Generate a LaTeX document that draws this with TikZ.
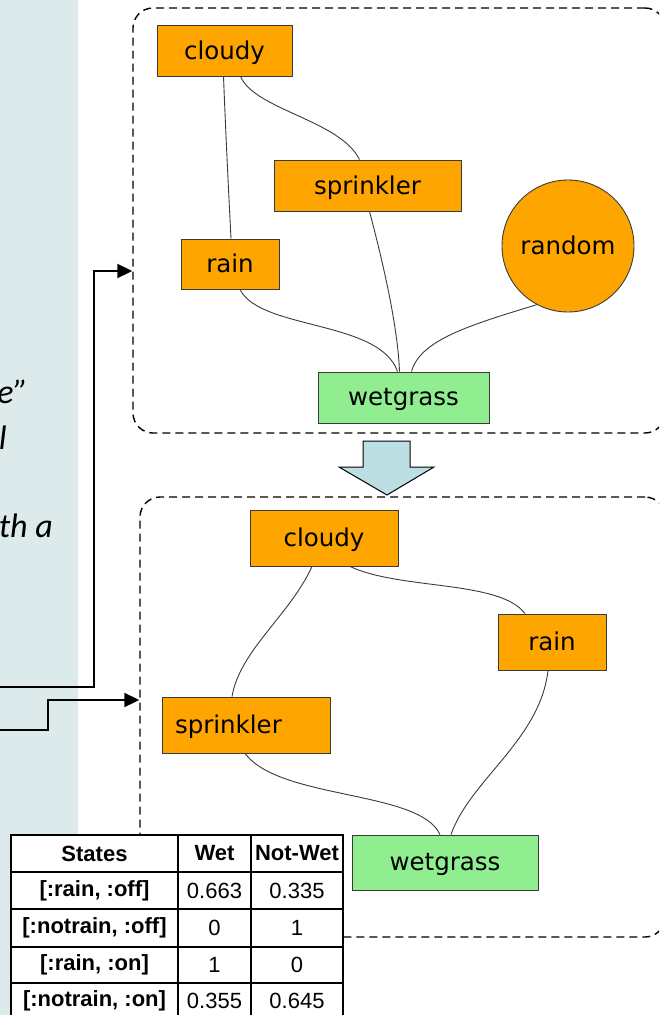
\documentclass[tikz,border=0pt]{standalone}
\usepackage{fontspec}
\setmainfont{DejaVu Sans}
\newfontfamily\tablefont{Liberation Sans}
\newfontfamily\notefont{Carlito}
\usetikzlibrary{arrows.meta,calc}

\definecolor{panelbg}{HTML}{DDEAEB}
\definecolor{varorange}{HTML}{FFA500}
\definecolor{vargreen}{HTML}{90EE90}
\definecolor{edgegray}{HTML}{3A3A3A}
\definecolor{stepblue}{HTML}{BCDFE3}

\tikzset{
  var/.style={draw=edgegray, line width=0.9pt, fill=varorange, inner sep=0pt,
    font=\fontsize{24.5}{29}\selectfont, text depth=0.25ex},
  obs/.style={var, fill=vargreen},
  dep/.style={draw=edgegray, line width=0.9pt},
  frame/.style={draw=black, line width=1.4pt, dash pattern=on 8pt off 5pt,
    rounded corners=20pt, inner sep=0pt},
  conn/.style={draw=black, line width=2pt,
    -{Triangle[length=15pt,width=14pt]}},
  note/.style={font=\notefont\itshape\fontsize{34}{40}\selectfont, inner sep=0pt},
  cell/.style={font=\tablefont\fontsize{22}{26}\selectfont, inner sep=0pt},
  hcell/.style={cell, font=\tablefont\bfseries\fontsize{22}{26}\selectfont},
}

\begin{document}
\begin{tikzpicture}[x=1pt, y=-1pt]
\useasboundingbox (0,0) rectangle (659,1015);
\clip (0,0) rectangle (659,1015);

% side panel with the clipped notes
\fill[panelbg] (0,0) rectangle (78,1015);
\node[note, anchor=base east] (n1) at (28,403) {e”};
\node[note, anchor=base east] (n2) at (7,449) {l};
\node[note, anchor=base east] (n3) at (53,537) {th a};

% frames around the two networks
\node[frame, minimum width=532pt, minimum height=425pt] (topframe) at (399,220.5) {};
\node[frame, minimum width=525pt, minimum height=440pt] (botframe) at (402.5,717) {};

% step arrow between the networks
\draw[black, line width=1pt, fill=stepblue]
  (363,441) -- (410,441) -- (410,467) -- (434,467) -- (387,495)
  -- (339,467) -- (363,467) -- cycle;

% first network
\node[var, minimum width=135pt, minimum height=51pt] (cloudy1) at (224.5,50.5) {cloudy};
\node[var, minimum width=187pt, minimum height=51pt] (sprinkler1) at (367.5,185.5) {sprinkler};
\node[var, minimum width=98pt, minimum height=50pt] (rain1) at (230,264) {rain};
\node[var, circle, minimum size=132pt] (random1) at (568,246) {random};
\node[obs, minimum width=171pt, minimum height=51pt] (wetgrass1) at (403.5,397.5) {wetgrass};

\draw[dep] ([xshift=-1pt]cloudy1.south) .. controls (226,140) and (229,200) .. ([xshift=1pt]rain1.north);
\draw[dep] ([xshift=16pt]cloudy1.south) .. controls (255,110) and (340,120) .. ([xshift=-8pt]sprinkler1.north);
\draw[dep] ([xshift=2pt]sprinkler1.south) .. controls (385,270) and (398,330) .. ([xshift=-4pt]wetgrass1.north);
\draw[dep] ([xshift=10pt]rain1.south) .. controls (260,330) and (380,320) .. ([xshift=-6pt]wetgrass1.north);
\draw[dep] (random1.-118) .. controls (470,325) and (420,340) .. ([xshift=8pt]wetgrass1.north);

% second network
\node[var, minimum width=148pt, minimum height=56pt] (cloudy2) at (324,538) {cloudy};
\node[var, minimum width=108pt, minimum height=56pt] (rain2) at (552,642) {rain};
\node[var, minimum width=168pt, minimum height=56pt, text width=142pt, align=left] (sprinkler2) at (246,725) {sprinkler};
\node[obs, minimum width=186pt, minimum height=55pt] (wetgrass2) at (445,862.5) {wetgrass};

\draw[dep] ([xshift=-12pt]cloudy2.south) .. controls (290,615) and (240,650) .. ([xshift=-14pt]sprinkler2.north);
\draw[dep] ([xshift=26pt]cloudy2.south) .. controls (400,590) and (500,580) .. ([xshift=-27pt]rain2.north);
\draw[dep] ([xshift=-1pt]sprinkler2.south) .. controls (280,800) and (420,790) .. ([xshift=-5pt]wetgrass2.north);
\draw[dep] ([xshift=-4pt]rain2.south) .. controls (540,740) and (470,780) .. ([xshift=6pt]wetgrass2.north);

% links from the side panel into the frames
\coordinate (src1) at (0,687);
\coordinate (src2) at (0,730);
\draw[conn] (src1) -- (94,687) -- (94,271) -- (topframe.west |- 0,271);
\draw[conn] (src2) -- (48,730) -- (48,700) -- (botframe.west |- 0,700);

% probability table
\fill[white] (11,835) rectangle (343,1030);
\foreach \yy in {872,909,947,983} \draw[black, line width=1.4pt] (11,\yy) -- (343,\yy);
\draw[black, line width=1.4pt] (178,835) -- (178,1030);
\draw[black, line width=1.4pt] (251,835) -- (251,1030);
\draw[black, line width=2pt] (11,1030) -- (11,835) -- (343,835) -- (343,1030);

\node[hcell] (hstates) at (94.5,853.5) {States};
\node[hcell] (hwet) at (214.5,853.5) {Wet};
\node[hcell] (hnotwet) at (297,853.5) {Not-Wet};

\node[hcell] (r1) at (94.5,890.5) {[:rain, :off]};
\node[cell] (r1a) at (214.5,890.5) {0.663};
\node[cell] (r1b) at (297,890.5) {0.335};

\node[hcell] (r2) at (94.5,928) {[:notrain, :off]};
\node[cell] (r2a) at (214.5,928) {0};
\node[cell] (r2b) at (297,928) {1};

\node[hcell] (r3) at (94.5,965) {[:rain, :on]};
\node[cell] (r3a) at (214.5,965) {1};
\node[cell] (r3b) at (297,965) {0};

\node[hcell] (r4) at (94.5,1001) {[:notrain, :on]};
\node[cell] (r4a) at (214.5,1001) {0.355};
\node[cell] (r4b) at (297,1001) {0.645};
\end{tikzpicture}
\end{document}
